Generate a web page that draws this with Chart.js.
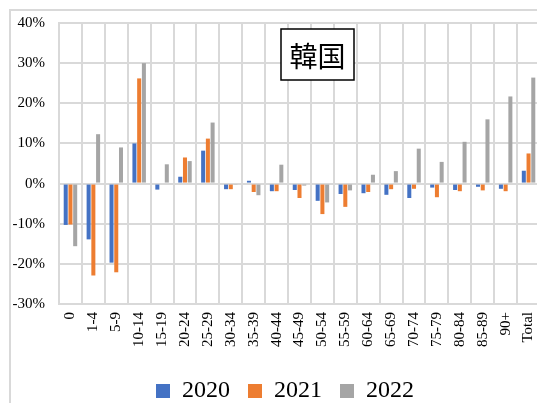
<!DOCTYPE html>
<html>
<head>
<meta charset="utf-8">
<script src="https://cdn.jsdelivr.net/npm/chart.js@4"></script>
<style>
    html, body { margin: 0; padding: 0; background: #fff; overflow: hidden; width: 537px; height: 403px; }
    .frame { position: absolute; left: 9px; top: 9px; width: 700px; height: 600px;
             border-left: 2px solid #D9D9D9; border-top: 2px solid #D9D9D9; }
    .wrap { position: absolute; left: 0; top: 0; width: 570px; height: 413px; }
</style>
</head>
<body>
<div class="frame"></div>
<div class="wrap"><canvas id="koreaChart"></canvas></div>
<script>
const ageGroups = ['0', '1-4', '5-9', '10-14', '15-19', '20-24', '25-29', '30-34', '35-39', '40-44',
    '45-49', '50-54', '55-59', '60-64', '65-69', '70-74', '75-79', '80-84', '85-89', '90+', 'Total'];

const values2020 = [-10.3, -13.9, -19.7, 10.0, -1.5, 1.7, 8.2, -1.4, 0.7, -1.9,
    -1.6, -4.3, -2.6, -2.4, -2.8, -3.6, -1.0, -1.6, -0.8, -1.3, 3.2];
const values2021 = [-10.2, -22.9, -22.1, 26.2, 0, 6.5, 11.2, -1.4, -2.1, -1.9,
    -3.6, -7.6, -5.8, -2.1, -1.4, -1.3, -3.4, -1.9, -1.7, -1.9, 7.5];
const values2022 = [-15.6, 12.3, 9.0, 30.0, 4.8, 5.6, 15.2, -0.3, -2.9, 4.7,
    -0.5, -4.7, -1.7, 2.2, 3.1, 8.7, 5.4, 10.4, 16.0, 21.7, 26.4];

const yearLabels = ['2020', '2021', '2022'];
const yearColors = ['#4472C4', '#ED7D31', '#A5A5A5'];
const chartTitle = '韓国';

const serif = "'Liberation Serif', 'Times New Roman', serif";
const gridColor = '#D9D9D9';

// caixa do título dentro da área do gráfico
const titleBox = {
    id: 'titleBox',
    afterLayout(chart) {
        // legenda centrada como no original (gráfico cortado à direita)
        chart.legend.left += 15;
        chart.legend.right += 15;
    },
    afterDraw(chart) {
        const { ctx, chartArea } = chart;
        const x = chartArea.left + 222;
        const y = chartArea.top + 6;
        ctx.save();
        ctx.fillStyle = '#fff';
        ctx.fillRect(x, y, 73, 51);
        ctx.strokeStyle = '#000';
        ctx.lineWidth = 1.5;
        ctx.strokeRect(x, y, 73, 51);
        ctx.fillStyle = '#000';
        ctx.font = "28px 'Noto Sans CJK JP'";
        ctx.textAlign = 'center';
        ctx.textBaseline = 'middle';
        ctx.fillText(chartTitle, x + 36.5, y + 27);
        ctx.restore();
    }
};

function renderBarChart() {
    const ctx = document.getElementById('koreaChart').getContext('2d');
    const series = [values2020, values2021, values2022];

    new Chart(ctx, {
        type: 'bar',
        data: {
            labels: ageGroups,
            datasets: series.map((vals, i) => ({
                label: yearLabels[i],
                data: vals,
                backgroundColor: yearColors[i],
                borderWidth: 0,
                categoryPercentage: 0.62,
                barPercentage: 0.85
            }))
        },
        options: {
            responsive: true,
            maintainAspectRatio: false,
            animation: false,
            layout: { padding: { top: 7, left: 0, right: 30, bottom: 0 } },
            plugins: {
                tooltip: { enabled: false },
                legend: {
                    position: 'bottom',
                    labels: {
                        boxWidth: 14,
                        boxHeight: 14,
                        padding: 18,
                        color: '#000',
                        font: { family: serif, size: 24 }
                    }
                }
            },
            scales: {
                x: {
                    grid: { color: gridColor, lineWidth: 2, tickLength: 0 },
                    border: { color: gridColor, width: 2 },
                    ticks: {
                        color: '#000',
                        font: { family: serif, size: 15 },
                        minRotation: 90,
                        maxRotation: 90,
                        autoSkip: false,
                        padding: 8
                    },
                    afterFit: scale => { scale.height = 57; }
                },
                y: {
                    min: -30,
                    max: 40,
                    grid: { color: gridColor, lineWidth: 2, drawTicks: false },
                    border: { color: gridColor, width: 2 },
                    ticks: {
                        stepSize: 10,
                        color: '#000',
                        padding: 14,
                        font: { family: serif, size: 15 },
                        callback: v => v + '%'
                    },
                    afterFit: scale => { scale.width = 59; }
                }
            }
        },
        plugins: [titleBox]
    });
}

document.addEventListener('DOMContentLoaded', renderBarChart);
</script>
</body>
</html>
